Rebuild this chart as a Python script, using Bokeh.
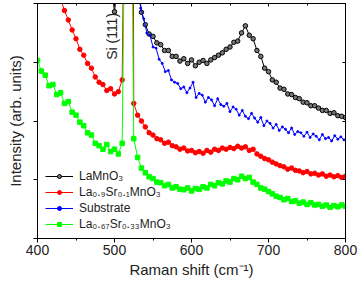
from math import pi
from bokeh.plotting import figure
from bokeh.models import (Range1d, LinearAxis, SingleIntervalTicker, Legend,
                          LegendItem, Label)
from bokeh.embed import file_html
from bokeh.resources import INLINE

# ---- data ----
shift_main = list(range(400, 805, 5))  # measurement grid, cm-1

green_lsmo33 = [3.03, 2.85, 2.78, 2.60, 2.62, 2.45, 2.48, 2.30, 2.33, 2.15,
                2.10, 1.98, 1.92, 1.80, 1.76, 1.62, 1.58, 1.52, 1.60, 1.48,
                1.52, 1.44, 1.62, 7.6, 9.0, 1.70, 1.38, 1.20, 1.12, 1.05,
                1.02, 0.96, 0.95, 0.90, 0.92, 0.86, 0.88, 0.84, 0.83, 0.86,
                0.81, 0.85, 0.84, 0.88, 0.86, 0.92, 0.90, 0.95, 0.93, 0.98,
                0.96, 1.02, 1.00, 1.06, 1.02, 1.04, 0.96, 0.92, 0.86, 0.84,
                0.80, 0.76, 0.72, 0.70, 0.66, 0.68, 0.63, 0.64, 0.60, 0.62,
                0.58, 0.61, 0.57, 0.58, 0.55, 0.57, 0.53, 0.56, 0.54, 0.57,
                0.55]

red_lsmo10 = [5.2, 5.0, 4.8, 4.6, 4.4, 4.25, 4.08, 3.88, 3.72, 3.55,
              3.40, 3.22, 3.12, 2.98, 2.90, 2.75, 2.66, 2.62, 2.52, 2.55,
              2.46, 2.50, 2.70, 9.2, 26.0, 2.30, 2.10, 2.00, 1.90, 1.80,
              1.76, 1.70, 1.68, 1.62, 1.64, 1.58, 1.56, 1.52, 1.54, 1.49,
              1.50, 1.46, 1.48, 1.45, 1.50, 1.47, 1.52, 1.50, 1.54, 1.52,
              1.55, 1.53, 1.57, 1.54, 1.56, 1.50, 1.52, 1.44, 1.40, 1.36,
              1.34, 1.30, 1.27, 1.24, 1.22, 1.18, 1.20, 1.16, 1.15, 1.12,
              1.14, 1.10, 1.11, 1.08, 1.10, 1.06, 1.08, 1.05, 1.07, 1.04,
              1.06]

shift_sub = list(range(530, 802, 4))
blue_substrate = [4.30, 3.92, 3.74, 3.50, 3.46, 3.26, 3.24, 3.05, 2.98, 2.84,
                  2.86, 2.70, 2.66, 2.64, 2.55, 2.58, 2.48, 2.56, 2.66, 2.40,
                  2.47, 2.44, 2.32, 2.40, 2.36, 2.26, 2.38, 2.28, 2.25, 2.30,
                  2.16, 2.24, 2.20, 2.10, 2.18, 2.08, 2.04, 2.13, 2.05, 1.98,
                  2.06, 1.92, 2.00, 1.96, 1.88, 1.94, 1.84, 1.90, 1.86, 1.80,
                  1.88, 1.77, 1.82, 1.80, 1.74, 1.81, 1.72, 1.78, 1.74, 1.68,
                  1.77, 1.70, 1.72, 1.66, 1.75, 1.69, 1.73, 1.68]

shift_lmo = list(range(490, 805, 5))
black_lmo = [4.6, 4.4, 3.86, 4.5, 6.0, 24.0, 26.0, 8.0, 4.5,
             3.85, 3.64, 3.48, 3.44, 3.33, 3.30, 3.20, 3.20, 3.10, 3.10,
             3.02, 3.06, 2.98, 3.04, 2.94, 3.00, 3.03, 2.98, 3.04, 3.08,
             3.12, 3.16, 3.22, 3.26, 3.34, 3.36, 3.50, 3.62, 3.46, 3.40,
             3.20, 3.10, 2.90, 2.84, 2.70, 2.66, 2.56, 2.54, 2.46, 2.45,
             2.40, 2.38, 2.32, 2.31, 2.26, 2.26, 2.22, 2.18, 2.18, 2.13,
             2.14, 2.09, 2.08, 2.06]

labels = ["LaMnO\u2083", "La\u2080.\u2089Sr\u2080.\u2081MnO\u2083", "Substrate",
          "La\u2080.\u2086\u2087Sr\u2080.\u2083\u2083MnO\u2083"]
x_ticks_major = 100
y_ticks = 1

FONT = "Liberation Sans"

p = figure(width=358, height=282, output_backend="svg", toolbar_location=None,
           x_range=Range1d(400, 800), y_range=Range1d(0, 4),
           min_border_left=37, min_border_right=13, min_border_top=3,
           min_border_bottom=44)
p.xgrid.visible = False
p.ygrid.visible = False
p.outline_line_color = "black"
p.background_fill_color = "white"
p.border_fill_color = "white"

xt = SingleIntervalTicker(interval=x_ticks_major, num_minor_ticks=2)
yt = SingleIntervalTicker(interval=y_ticks, num_minor_ticks=0)

ax = p.xaxis[0]
ax.ticker = xt
ax.major_tick_out = 4
ax.major_tick_in = 0
ax.minor_tick_out = 2
ax.minor_tick_in = 0
ax.axis_line_color = "black"
ax.major_tick_line_color = "black"
ax.minor_tick_line_color = "black"
ax.major_label_text_font = FONT
ax.major_label_text_font_size = "14px"
ax.major_label_text_color = "#222222"
ax.major_label_standoff = 2
ax.axis_label = "Raman shift (cm\u207b\u00b9)"
ax.axis_label_text_font = FONT
ax.axis_label_text_font_size = "15px"
ax.axis_label_text_font_style = "normal"
ax.axis_label_text_color = "#222222"
ax.axis_label_standoff = 3

ay = p.yaxis[0]
ay.ticker = yt
ay.major_tick_out = 4
ay.major_tick_in = 0
ay.minor_tick_line_color = None
ay.axis_line_color = "black"
ay.major_tick_line_color = "black"
ay.major_label_text_font_size = "1px"
ay.major_label_text_color = None
ay.major_label_standoff = 0
ay.axis_label = "Intensity (arb. units)"
ay.axis_label_text_font = FONT
ay.axis_label_text_font_size = "15px"
ay.axis_label_text_font_style = "normal"
ay.axis_label_text_color = "#222222"
ay.axis_label_standoff = 10

top = LinearAxis(ticker=SingleIntervalTicker(interval=x_ticks_major, num_minor_ticks=2),
                 major_tick_in=3, major_tick_out=0, minor_tick_in=2, minor_tick_out=0,
                 major_label_text_font_size="1px", major_label_text_color=None,
                 major_label_standoff=0, axis_line_color="black")
p.add_layout(top, "above")
right = LinearAxis(ticker=SingleIntervalTicker(interval=y_ticks, num_minor_ticks=0),
                   major_tick_in=3, major_tick_out=0, minor_tick_line_color=None,
                   major_label_text_font_size="1px", major_label_text_color=None,
                   major_label_standoff=0, axis_line_color="black")
p.add_layout(right, "right")

# series
l_black = p.line(shift_lmo, black_lmo, line_color="black", line_width=1)
s_black = p.scatter(shift_lmo, black_lmo, marker="circle", size=4.5,
                    line_color="black", fill_color="#777777", line_width=1)
l_red = p.line(shift_main, red_lsmo10, line_color="#ff0000", line_width=1)
s_red = p.scatter(shift_main, red_lsmo10, marker="circle", size=4.5,
                  line_color="#ff0000", fill_color="#ff0000")
l_blue = p.line(shift_sub, blue_substrate, line_color="#0000ff", line_width=1)
s_blue = p.scatter(shift_sub, blue_substrate, marker="circle", size=2,
                   line_color="#0000ff", fill_color="#0000ff")
l_green = p.line(shift_main, green_lsmo33, line_color="#00ff00", line_width=1)
s_green = p.scatter(shift_main, green_lsmo33, marker="square", size=4.5,
                    line_color="#00ff00", fill_color="#00ff00")

legend = Legend(items=[
    LegendItem(label=labels[0], renderers=[l_black, s_black]),
    LegendItem(label=labels[1], renderers=[l_red, s_red]),
    LegendItem(label=labels[2], renderers=[l_blue, s_blue]),
    LegendItem(label=labels[3], renderers=[l_green, s_green]),
], location=(6, 4))
legend.padding = 2
legend.margin = 0
legend.spacing = 0
legend.glyph_width = 28
legend.glyph_height = 10
legend.label_height = 16
legend.label_standoff = 6
legend.label_text_font = FONT
legend.label_text_font_size = "12px"
legend.label_text_line_height = 1.0
legend.label_text_color = "#222222"
legend.background_fill_alpha = 0
legend.border_line_alpha = 0
p.add_layout(legend)

si = Label(x=497, y=3.44, text="Si (111)", angle=pi / 2, text_align="center",
           text_baseline="middle", text_font=FONT, text_font_size="14px",
           text_color="#222222")
p.add_layout(si)

open("out.html", "w").write(file_html(p, INLINE))
